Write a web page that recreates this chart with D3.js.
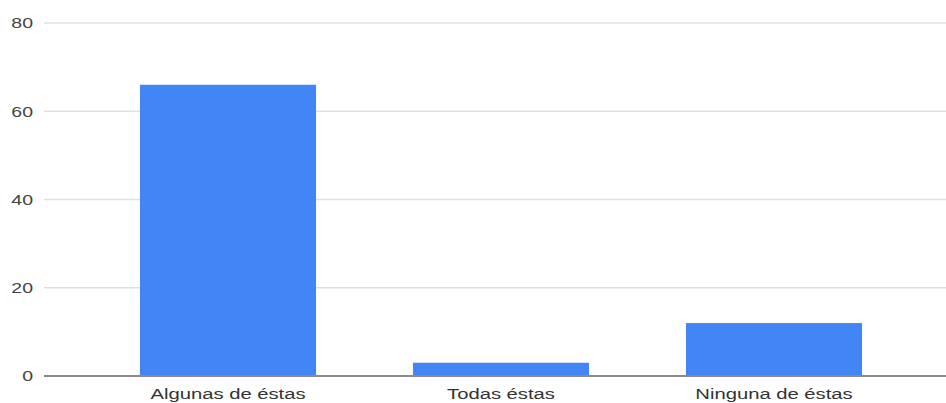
<!DOCTYPE html>
<html>
<head>
<meta charset="utf-8">
<script src="https://d3js.org/d3.v7.min.js"></script>
<style>
  body { margin: 0; background: #fff; }
  text { font-family: "Liberation Sans", Arial, sans-serif; }
</style>
</head>
<body>
<div id="chart"></div>
<script>
const categories = ["Algunas de éstas", "Todas éstas", "Ninguna de éstas"];
const values = [66, 3, 12];
const yTicks = [0, 20, 40, 60, 80];

const width = 946, height = 403;
// the source picture is stretched sideways, so the text is too
const stretch = 1.35;

const svg = d3.select("#chart")
  .append("svg")
    .attr("width", width)
    .attr("height", height);

// x band scale: bars 176px wide on a 273px step
const x = d3.scaleBand()
  .domain(categories)
  .range([91.5, 910.5])
  .paddingInner(0.355)
  .paddingOuter(0.1775);

const y = d3.scaleLinear()
  .domain([0, 80])
  .range([376, 23]);

// gridlines
svg.append("g")
  .selectAll("line")
  .data(yTicks.filter(d => d !== 0))
  .join("line")
    .attr("x1", 44)
    .attr("x2", width)
    .attr("y1", d => y(d))
    .attr("y2", d => y(d))
    .attr("stroke", "#e0e0e0")
    .attr("stroke-width", 1.5);

// y tick labels
svg.append("g")
  .selectAll("text")
  .data(yTicks)
  .join("text")
    .attr("transform", d => `translate(33,${y(d)}) scale(1.3,1)`)
    .attr("dy", "0.35em")
    .attr("text-anchor", "end")
    .attr("font-size", 15)
    .attr("fill", "#444")
    .text(d => d);

// bars
svg.append("g")
  .selectAll("rect")
  .data(values)
  .join("rect")
    .attr("x", (d, i) => x(categories[i]))
    .attr("width", x.bandwidth())
    .attr("y", d => y(d))
    .attr("height", d => y(0) - y(d))
    .attr("fill", "#4285f4");

// baseline
svg.append("line")
  .attr("x1", 44)
  .attr("x2", width)
  .attr("y1", y(0))
  .attr("y2", y(0))
  .attr("stroke", "#8a8a8a")
  .attr("stroke-width", 2);

// category labels
svg.append("g")
  .selectAll("text")
  .data(categories)
  .join("text")
    .attr("transform", d => `translate(${x(d) + x.bandwidth() / 2},399) scale(${stretch},1)`)
    .attr("text-anchor", "middle")
    .attr("font-size", 15)
    .attr("fill", "#333")
    .text(d => d);
</script>
</body>
</html>
